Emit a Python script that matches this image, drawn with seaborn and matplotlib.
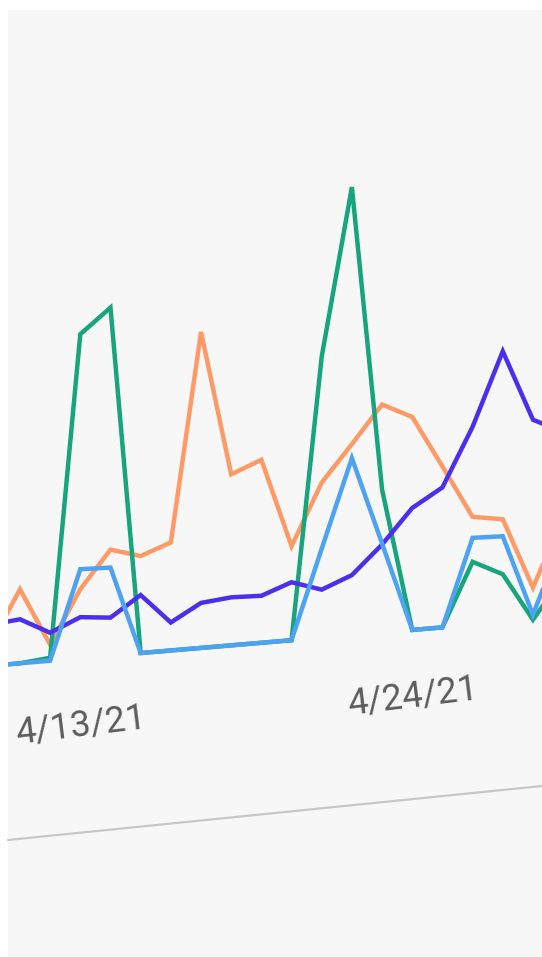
import numpy as np
import pandas as pd
import matplotlib
matplotlib.use("Agg")
import matplotlib.pyplot as plt
from matplotlib.transforms import Affine2D
from matplotlib.lines import Line2D
import seaborn as sns

# Daily values, 4/10/21 .. 4/29/21
dates = pd.date_range("2021-04-10", "2021-04-29", freq="D")
orange = [20, 74, 16, 69, 106, 97, 108, 316, 171, 183, 94, 155, 191, 228, 213, 161, 108, 103, 32, 100]
green = [0, 0, 3, 324, 348, 0, 0, 0, 0, 0, 0, 281, 448, 143, 0, 0, 63, 48, 0, 40]
purple = [41, 44, 28, 41, 38, 58, 28, 45, 48, 47, 58, 48, 60, 88, 122, 140, 198, 271, 200, 185]
blue = [0, 0, 0, 89, 88, 0, 0, 0, 0, 0, 0, 89, 177, 89, 0, 0, 87, 86, 5, 80]

series_names = ["Sessions", "Signups", "Users", "Visits"]
series_values = [orange, green, purple, blue]
palette = {"Sessions": "#ff9a66", "Signups": "#16a57c", "Users": "#4a2ff0", "Visits": "#4ea2f2"}

tick_dates = pd.to_datetime(["2021-04-13", "2021-04-24"])
tick_labels = ["4/13/21", "4/24/21"]

df = pd.concat(
    [pd.DataFrame({"date": dates, "value": vals, "series": name})
     for name, vals in zip(series_names, series_values)],
    ignore_index=True,
)

sns.set_theme(style="white")
W, H, DPI = 542, 957, 100
fig = plt.figure(figsize=(W / DPI, H / DPI), dpi=DPI, facecolor="white")
ax = fig.add_axes([8 / W, 0, 1 - 8 / W, (H - 10) / H])
ax.set_facecolor("#f7f7f7")

sns.lineplot(data=df, x="date", y="value", hue="series", palette=palette,
             hue_order=series_names, linewidth=3.2, legend=False, ax=ax)

# x range: one day ~30 px, 4/11 at the left, a partial day on each side
day0 = pd.Timestamp("2021-04-11")
ax.set_xlim(day0 - pd.Timedelta(hours=9.5), day0 + pd.Timedelta(hours=24 * 17.3))
ax.set_ylim(-292, 655)
for s in ax.spines.values():
    s.set_visible(False)
ax.set_xticks([])
ax.set_yticks([])
ax.set_xlabel("")
ax.set_ylabel("")

# the screen is viewed at a slight angle: shear everything upward to the right
shear = Affine2D().skew(0, np.arctan(0.085))
for ln in ax.lines:
    ln.set_transform(ax.transData + shear)
    ln.set_solid_joinstyle("miter")

for d, lab in zip(tick_dates, tick_labels):
    ax.text(d, -67, lab, transform=ax.transData + shear, rotation=7,
            rotation_mode="anchor", ha="center", va="center",
            fontsize=26, color="#5c5c5c", family=["Roboto", "DejaVu Sans"])

# bottom edge of the screen panel
fig.add_artist(Line2D([8 / W, 1], [1 - 840 / H, 1 - 786 / H], color="#c4c8ca",
                      linewidth=1.6, transform=fig.transFigure))

fig.savefig("out.png", dpi=DPI, facecolor="white")
